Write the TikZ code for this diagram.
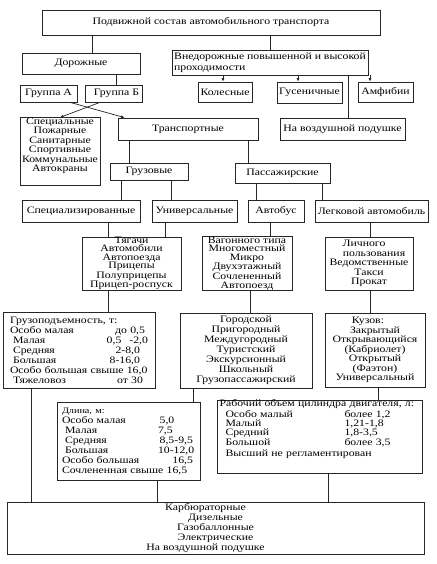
\documentclass[tikz,border=0pt]{standalone}
\usepackage{fontspec}
\setmainfont{Liberation Serif}[FakeStretch=1.2]
\usepackage{tikz}
\usetikzlibrary{arrows.meta, calc}
\newcommand{\boxfont}{\fontsize{9.8}{9.5}\selectfont}
\newcommand{\tightfont}{\fontsize{9.8}{8.5}\selectfont}
\newcommand{\tablefont}{\fontsize{9.8}{10}\selectfont}
\newcommand{\rowlr}[2]{\makebox[\linewidth][l]{#1\hfill#2}}
\tikzset{
	box/.style={rectangle, draw=black!85, line width=0.7pt, inner sep=0pt, align=center, font=\boxfont},
	box_table/.style={box, align=left, font=\tablefont},
	conn_line/.style={draw=black!85, line width=0.7pt},
	conn_arrow/.style={conn_line, -{Latex[length=3.5pt,width=3pt]}}
}
\begin{document}
\begin{tikzpicture}[x=1pt, y=-1pt]
	\useasboundingbox[fill=white] (0,0) rectangle (436,564);
	\node[box, minimum width=338pt, minimum height=25pt] (top) at (211,22.5) {Подвижной состав автомобильного транспорта};
	\node[box, minimum width=118pt, minimum height=21pt] (road) at (81,63.5) {Дорожные};
	\node[box, align=left, minimum width=196pt, minimum height=25pt, font=\fontsize{9.8}{11.5}\selectfont] (offroad) at (270,62.5) {Внедорожные повышенной и высокой\\проходимости\hspace*{110pt}};
	\node[box, minimum width=57pt, minimum height=17pt] (grA) at (48.5,93.5) {Группа А};
	\node[box, minimum width=57pt, minimum height=17pt] (grB) at (113.5,93.5) {\hspace*{6pt}Группа Б};
	\node[box, minimum width=54pt, minimum height=20pt] (wheel) at (225,92) {Колесные};
	\node[box, minimum width=65pt, minimum height=21pt] (track) at (309.5,92.5) {Гусеничные};
	\node[box, minimum width=55pt, minimum height=20pt] (amph) at (385.5,92) {Амфибии};
	\node[box, minimum width=80pt, minimum height=67pt] (special) at (60,151.5) {Специальные\\Пожарные\\Санитарные\\Спортивные\\Коммунальные\\Автокраны\\[4pt]};
	\node[box, minimum width=140pt, minimum height=22pt] (transport) at (188,129) {Транспортные};
	\node[box, minimum width=125pt, minimum height=22pt] (hover) at (342.5,129) {На воздушной подушке};
	\node[box, minimum width=78pt, minimum height=17pt] (cargo) at (149,171.5) {Грузовые};
	\node[box, minimum width=95pt, minimum height=20pt] (pass) at (282.5,173) {Пассажирские};
	\node[box, minimum width=118pt, minimum height=22pt] (spec) at (81,211) {Специализированные};
	\node[box, minimum width=85pt, minimum height=22pt] (univ) at (194.5,211) {Универсальные};
	\node[box, minimum width=56pt, minimum height=22pt] (bus) at (276,211) {Автобус};
	\node[box, minimum width=113pt, minimum height=22pt] (car) at (371.5,211) {Легковой автомобиль};
	\node[box, minimum width=99pt, minimum height=53pt, font=\tightfont] (tract) at (131.5,263.5) {Тягачи\\Автомобили\\Автопоезда\\Прицепы\\Полуприцепы\\Прицеп-роспуск};
	\node[box, minimum width=90pt, minimum height=53pt, font=\tightfont] (wagon) at (247,263.5) {Вагонного типа\\Многоместный\\Микро\\Двухэтажный\\Сочлененный\\Автопоезд};
	\node[box, minimum width=88pt, minimum height=53pt] (private) at (369,263.5) {Личного\hspace*{10pt}\\\hspace*{10pt}пользования\\Ведомственные\\Такси\\Прокат};
	\node[box_table, text width=138pt, minimum width=152pt, minimum height=76pt] (capacity) at (79,350) {Грузоподъемность, т:\\
		\rowlr{Особо малая}{до 0,5\hspace*{3pt}}\\
		\rowlr{\hspace*{3pt}Малая}{0,5\hspace{8pt}-2,0}\\
		\rowlr{\hspace*{3pt}Средняя}{2-8,0\hspace*{8pt}}\\
		\rowlr{\hspace*{3pt}Большая}{8-16,0\hspace*{8pt}}\\
		Особо большая свыше 16,0\\
		\rowlr{\hspace*{3pt}Тяжеловоз}{от 30\hspace*{5pt}}};
	\node[box, minimum width=132pt, minimum height=75pt, font=\fontsize{9.8}{10}\selectfont] (city) at (246,350.5) {Городской\\Пригородный\\Междугородный\\Туристский\\Экскурсионный\\Школьный\\Грузопассажирский};
	\node[box, minimum width=100pt, minimum height=74pt] (body) at (375,350) {Кузов:\hspace*{14pt}\\Закрытый\\Открывающийся\\(Кабриолет)\\Открытый\\(Фаэтон)\\Универсальный};
	\node[box_table, text width=133pt, minimum width=143pt, minimum height=78pt] (length) at (128.5,441) {{\fontsize{8.5}{9}\selectfont Длина, м:}\\
		\makebox[96pt][l]{Особо малая}\,5,0\\
		\makebox[96pt][l]{\hspace*{3pt}Малая}7,5\\
		\makebox[96pt][l]{\hspace*{3pt}Средняя}\,8,5-9,5\\
		\makebox[96pt][l]{\hspace*{3pt}Большая}10-12,0\\
		\rowlr{Особо большая}{16,5\hspace*{2pt}}\\
		Сочлененная свыше 16,5};
	\node[box_table, text width=200pt, minimum width=205pt, minimum height=73pt, font=\fontsize{9.8}{9}\selectfont] (engine) at (319.5,436.5) {Рабочий объем цилиндра двигателя, л:\\
		\hspace*{6pt}\makebox[119pt][l]{Особо малый}более 1,2\\
		\hspace*{6pt}\makebox[119pt][l]{Малый}1,21-1,8\\
		\hspace*{6pt}\makebox[119pt][l]{Средний}1,8-3,5\\
		\hspace*{6pt}\makebox[119pt][l]{Большой}более 3,5\\[2pt]
		\hspace*{6pt}Высший не регламентирован\\[8pt]\mbox{}};
	\node[box, minimum width=417pt, minimum height=52pt, font=\fontsize{9.8}{10}\selectfont] (bottom) at (215.5,528) {Карбюраторные\hspace*{20pt}\\Дизельные\hspace*{20pt}\\Газобаллонные\hspace*{20pt}\\Электрические\hspace*{20pt}\\На воздушной подушке\hspace*{20pt}};
	\draw[conn_line] ([xshift=11pt]road.north |- top.south) -- ([xshift=11pt]road.north);
	\draw[conn_line] (offroad.north |- top.south) -- (offroad.north);
	\draw[conn_line] ([xshift=2.5pt]grB.north |- road.south) -- ([xshift=2.5pt]grB.north);
	\draw[conn_arrow] ([xshift=-2pt]wheel.north |- offroad.south) -- ([xshift=-2pt]wheel.north);
	\draw[conn_arrow] ([xshift=-11.5pt]track.north |- offroad.south) -- ([xshift=-11.5pt]track.north);
	\draw[conn_arrow] ([xshift=-15.5pt]amph.north |- offroad.south) -- ([xshift=-15.5pt]amph.north);
	\draw[conn_line] ([xshift=5.5pt]hover.north |- offroad.south) -- ([xshift=5.5pt]hover.north);
	\draw[conn_arrow] ([xshift=21.5pt]grA.south) -- ([xshift=7pt]transport.north west);
	\draw[conn_arrow] ([xshift=-13.5pt]grB.south) -- (special.north);
	\draw[conn_line] ([xshift=-20pt]cargo.north |- transport.south) -- ([xshift=-20pt]cargo.north);
	\draw[conn_line] ([xshift=-34.5pt]pass.north |- transport.south) -- ([xshift=-34.5pt]pass.north);
	\draw[conn_line] ([xshift=40pt]spec.north |- cargo.south) -- ([xshift=40pt]spec.north);
	\draw[conn_line] ([xshift=-23.5pt]univ.north |- cargo.south) -- ([xshift=-23.5pt]univ.north);
	\draw[conn_line] ([xshift=-20pt]bus.north |- pass.south) -- ([xshift=-20pt]bus.north);
	\draw[conn_line] ([xshift=-49.5pt]car.north |- pass.south) -- ([xshift=-49.5pt]car.north);
	\draw[conn_line] ([xshift=-23.5pt]tract.north |- spec.south) -- ([xshift=-23.5pt]tract.north);
	\draw[conn_line] ([xshift=33.5pt]tract.north |- univ.south) -- ([xshift=33.5pt]tract.north);
	\draw[conn_line] ([xshift=23pt]wagon.north |- bus.south) -- ([xshift=23pt]wagon.north);
	\draw[conn_line] ([xshift=1pt]private.north |- car.south) -- ([xshift=1pt]private.north);
	\draw[conn_line] ([xshift=29pt]capacity.north |- tract.south) -- ([xshift=29pt]capacity.north);
	\draw[conn_line] ([xshift=4pt]city.north |- wagon.south) -- ([xshift=4pt]city.north);
	\draw[conn_line] ([xshift=-5pt]body.north |- private.south) -- ([xshift=-5pt]body.north);
	\draw[conn_line] ([xshift=-48pt]capacity.south) -- ([xshift=-48pt]capacity.south |- bottom.north);
	\draw[conn_line] ([xshift=64.5pt]length.north |- city.south) -- ([xshift=64.5pt]length.north);
	\draw[conn_line] ([xshift=58.5pt]engine.north |- body.south) -- ([xshift=58.5pt]engine.north);
	\draw[conn_line] ([xshift=28.5pt]length.south) -- ([xshift=28.5pt]length.south |- bottom.north);
	\draw[conn_line] ([xshift=8.5pt]engine.south) -- ([xshift=8.5pt]engine.south |- bottom.north);
\end{tikzpicture}
\end{document}
